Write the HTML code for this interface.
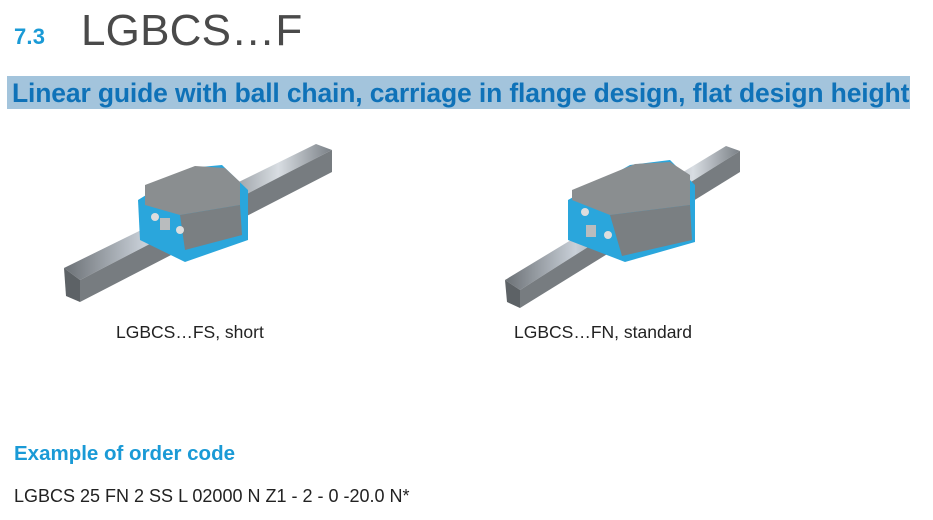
<!DOCTYPE html>
<html><head><style>
body{margin:0;width:933px;height:520px;background:#fff;position:relative;overflow:hidden;font-family:"Liberation Sans",Arial,sans-serif;}
.a{position:absolute;white-space:nowrap;}
</style></head><body>
<div class="a" style="left:14px;top:24px;font-size:22px;font-weight:bold;color:#1a9ad6;letter-spacing:0.2px;">7.3</div>
<div class="a" style="left:81px;top:6px;font-size:44px;color:#4a4a4a;letter-spacing:0.2px;">LGBCS…F</div>
<div class="a" style="left:7px;top:76px;width:903px;height:33px;background:#a3c4dc;"></div>
<div class="a" style="left:12px;top:78px;font-size:26.5px;font-weight:bold;color:#0f72b8;letter-spacing:-0.15px;">Linear guide with ball chain, carriage in flange design, flat design height</div>
<svg class="a" style="left:0;top:0" width="933" height="520">
<defs><linearGradient id="r" x1="0" y1="0" x2="1" y2="0"><stop offset="0" stop-color="#6b7075"/><stop offset="0.3" stop-color="#c9d0d8"/><stop offset="0.55" stop-color="#7c8287"/><stop offset="0.8" stop-color="#d8dde2"/><stop offset="1" stop-color="#7a8086"/></linearGradient></defs>
<g>
<polygon points="64,268 316,144 332,150 80,280" fill="url(#r)"/>
<polygon points="64,268 80,280 80,302 66,296" fill="#5d6266"/>
<polygon points="80,280 332,150 332,172 80,302" fill="#777c80"/>
<polygon points="138,200 190,168 222,165 248,190 248,240 185,262 140,240" fill="#2aa6dc"/>
<polygon points="145,185 195,166 225,168 240,182 240,205 180,215 145,205" fill="#8a8e90"/>
<polygon points="180,215 240,205 242,235 185,250" fill="#7a7f82"/>
<circle cx="155" cy="217" r="4" fill="#ddd"/><circle cx="180" cy="230" r="4" fill="#ddd"/>
<rect x="160" y="218" width="10" height="12" fill="#b9bcbe"/>
</g>
<g>
<polygon points="505,280 726,146 740,151 520,290" fill="url(#r)"/>
<polygon points="505,280 520,290 520,308 507,302" fill="#5d6266"/>
<polygon points="520,290 740,151 740,172 520,308" fill="#777c80"/>
<polygon points="568,200 630,165 670,160 695,185 695,242 625,262 568,240" fill="#2aa6dc"/>
<polygon points="572,190 635,164 670,162 690,175 690,205 610,215 572,200" fill="#8a8e90"/>
<polygon points="610,215 690,205 692,240 622,256" fill="#7a7f82"/>
<circle cx="585" cy="212" r="4" fill="#ddd"/><circle cx="608" cy="235" r="4" fill="#ddd"/>
<rect x="586" y="225" width="10" height="12" fill="#b9bcbe"/>
</g>
</svg>
<div class="a" style="left:116px;top:322px;font-size:17.5px;color:#222;">LGBCS…FS, short</div>
<div class="a" style="left:514px;top:322px;font-size:17.5px;color:#222;">LGBCS…FN, standard</div>
<div class="a" style="left:14px;top:442px;font-size:20.5px;font-weight:bold;color:#1a9ad6;">Example of order code</div>
<div class="a" style="left:14px;top:486px;font-size:18px;color:#222;">LGBCS 25 FN 2 SS L 02000 N Z1 - 2 - 0 -20.0 N*</div>
</body></html>
